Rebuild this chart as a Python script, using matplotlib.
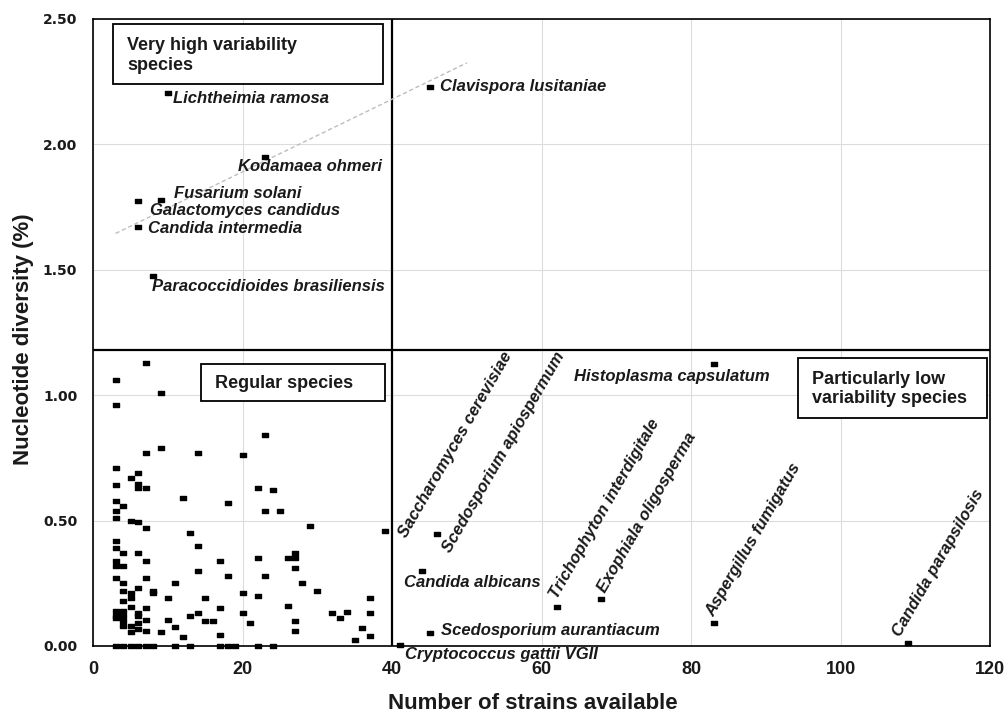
import matplotlib
matplotlib.use("Agg")
import matplotlib.pyplot as plt
from matplotlib.path import Path
from matplotlib.patches import Rectangle

# ---------------- data ----------------
regular_x = [3] * 16 + [4] * 11 + [5] * 8 + [6] * 11 + [7] * 10 + [8] * 3 + [9] * 3 + [10] * 2 + \
    [11] * 3 + [12] * 2 + [13] * 3 + [14] * 4 + [15] * 2 + [16] + [17] * 4 + [18] * 3 + [19] + \
    [20] * 3 + [21] + [22] * 4 + [23] * 3 + [24] * 2 + [25] + [26] * 2 + [27] * 5 + \
    [28, 29, 30, 32, 33, 34, 35, 36] + [37] * 3
regular_y = [
    1.06, 0.96, 0.71, 0.64, 0.58, 0.54, 0.51, 0.42, 0.39, 0.34, 0.32, 0.27, 0.14, 0.12, 0.11, 0.00,  # 3
    0.56, 0.37, 0.32, 0.25, 0.22, 0.18, 0.14, 0.12, 0.10, 0.08, 0.00,  # 4
    0.67, 0.50, 0.21, 0.19, 0.155, 0.08, 0.055, 0.00,  # 5
    0.69, 0.645, 0.63, 0.495, 0.37, 0.23, 0.13, 0.12, 0.09, 0.066, 0.00,  # 6
    1.13, 0.77, 0.63, 0.47, 0.34, 0.27, 0.15, 0.105, 0.06, 0.00,  # 7
    0.22, 0.21, 0.00,  # 8
    1.01, 0.79, 0.056,  # 9
    0.19, 0.105,  # 10
    0.25, 0.075, 0.00,  # 11
    0.59, 0.035,  # 12
    0.45, 0.12, 0.00,  # 13
    0.77, 0.40, 0.30, 0.13,  # 14
    0.19, 0.10,  # 15
    0.10,  # 16
    0.34, 0.15, 0.045, 0.00,  # 17
    0.57, 0.28, 0.00,  # 18
    0.00,  # 19
    0.76, 0.21, 0.13,  # 20
    0.09,  # 21
    0.63, 0.35, 0.20, 0.00,  # 22
    0.84, 0.54, 0.28,  # 23
    0.62, 0.00,  # 24
    0.54,  # 25
    0.35, 0.16,  # 26
    0.37, 0.35, 0.31, 0.10, 0.06,  # 27
    0.25, 0.48, 0.22, 0.13, 0.11, 0.135, 0.025, 0.07,  # 28..36
    0.19, 0.13, 0.04,  # 37
]

named_species = [
    "Lichtheimia ramosa", "Clavispora lusitaniae", "Kodamaea ohmeri", "Fusarium solani",
    "Galactomyces candidus", "Candida intermedia", "Paracoccidioides brasiliensis",
    "Histoplasma capsulatum", "Candida albicans", "Scedosporium aurantiacum",
    "Cryptococcus gattii VGII", "Saccharomyces cerevisiae", "Scedosporium apiospermum",
    "Trichophyton interdigitale", "Exophiala oligosperma", "Aspergillus fumigatus",
    "Candida parapsilosis",
]
named_x = [10, 45, 23, 9, 6, 6, 8, 83, 44, 45, 41, 39, 46, 62, 68, 83, 109]
named_y = [2.205, 2.229, 1.95, 1.78, 1.776, 1.669, 1.477, 1.123, 0.30, 0.05, 0.004,
           0.46, 0.445, 0.156, 0.186, 0.09, 0.011]

trend_x = [3, 50]
trend_y = [1.645, 2.325]

x_threshold = 40
y_threshold = 1.18

x_ticks = [0, 20, 40, 60, 80, 100, 120]
y_ticks = [0.0, 0.5, 1.0, 1.5, 2.0, 2.5]
y_tick_labels = ["0.00", "0.50", "1.00", "1.50", "2.00", "2.50"]

quadrant_titles = ["Very high variability\nspecies", "Regular species",
                   "Particularly low\nvariability species"]

# ---------------- layout (label offsets in pixels, rotation) ----------------
label_layout = [
    (5, -6, 0), (10, 0, 0), (-27, -10, 0), (13, 6, 0), (12, -10, 0), (10, -1, 0),
    (-1, -11, 0), (-140, -12, 0), (-18, -12, 0), (11, 3, 0), (5, -10, 0),
    (22, -8, 60), (13, -19, 60), (1, 7, 60), (4, 6, 60), (0, 6, 60), (-7, 6, 60),
]
box_layout = [
    # x0, y0, x1, y1 (axes fraction), text x, text y
    (0.0223, 0.8959, 0.3227, 0.992, 0.0379, 0.9413),
    (0.1198, 0.3912, 0.3250, 0.4498, 0.1357, 0.4190),
    (0.7862, 0.3632, 0.9970, 0.4589, 0.8018, 0.4096),
]

# ---------------- plot ----------------
fig = plt.figure(figsize=(10.06, 7.13), dpi=100)
ax = fig.add_axes([0.0927, 0.094, 0.8914, 0.8794])
ax.set_xlim(0, 120)
ax.set_ylim(0, 2.5)

ax.set_xticks(x_ticks)
ax.set_xticklabels([str(t) for t in x_ticks], fontfamily="Liberation Sans",
                   fontweight="bold", fontsize=13, color="#1a1a1a")
ax.set_yticks(y_ticks)
ax.set_yticklabels(y_tick_labels, fontfamily="DejaVu Sans", fontweight="bold",
                   fontsize=10, color="#1a1a1a")
ax.tick_params(axis="both", length=0)
ax.tick_params(axis="y", pad=11.5)
ax.tick_params(axis="x", pad=11)

ax.grid(True, color="#dcdcdc", lw=0.8)
ax.set_axisbelow(True)
for s in ax.spines.values():
    s.set_color("black")
    s.set_linewidth(1.2)

ax.axvline(x_threshold, color="black", lw=1.6, zorder=2)
ax.axhline(y_threshold, color="black", lw=1.6, zorder=2)

ax.plot(trend_x, trend_y, color="#bdbdbd", lw=1.0, ls=(0, (3, 2)), zorder=2)

rect = Path([(-1, -0.6), (1, -0.6), (1, 0.6), (-1, 0.6), (-1, -0.6)], closed=True)
ax.plot(regular_x, regular_y, ls="none", marker=rect, ms=3.7, color="black",
        clip_on=False, zorder=4)
ax.plot(named_x, named_y, ls="none", marker=rect, ms=3.7, color="black",
        clip_on=False, zorder=4)

for name, x, y, (dx, dy, rot) in zip(named_species, named_x, named_y, label_layout):
    if rot:
        ax.annotate(name, (x, y), xytext=(dx, dy), textcoords="offset pixels",
                    ha="left", va="baseline", rotation=rot, rotation_mode="anchor",
                    fontfamily="Liberation Sans", fontweight="bold", fontstyle="italic",
                    fontsize=12, color="#1a1a1a", zorder=5)
    else:
        ax.annotate(name, (x, y), xytext=(dx, dy), textcoords="offset pixels",
                    ha="left", va="center",
                    fontfamily="Liberation Sans", fontweight="bold", fontstyle="italic",
                    fontsize=12, color="#1a1a1a", zorder=5)

for title, (x0, y0, x1, y1, tx, ty) in zip(quadrant_titles, box_layout):
    ax.add_patch(Rectangle((x0, y0), x1 - x0, y1 - y0, transform=ax.transAxes,
                           facecolor="white", edgecolor="black", lw=1.3, zorder=6))
    ax.text(tx, ty, title, transform=ax.transAxes, ha="left", va="center",
            fontfamily="Liberation Sans", fontweight="bold", fontsize=13,
            color="#1a1a1a", zorder=7, linespacing=1.2)

ax.set_xlabel("Number of strains available", fontfamily="Liberation Sans",
              fontweight="bold", fontsize=16, color="#1a1a1a")
ax.xaxis.set_label_coords(0.49, -0.075)
ax.set_ylabel("Nucleotide diversity (%)", fontfamily="Liberation Sans",
              fontweight="bold", fontsize=16, color="#1a1a1a")
ax.yaxis.set_label_coords(-0.066, 0.49)

fig.savefig("out.png", dpi=100)
